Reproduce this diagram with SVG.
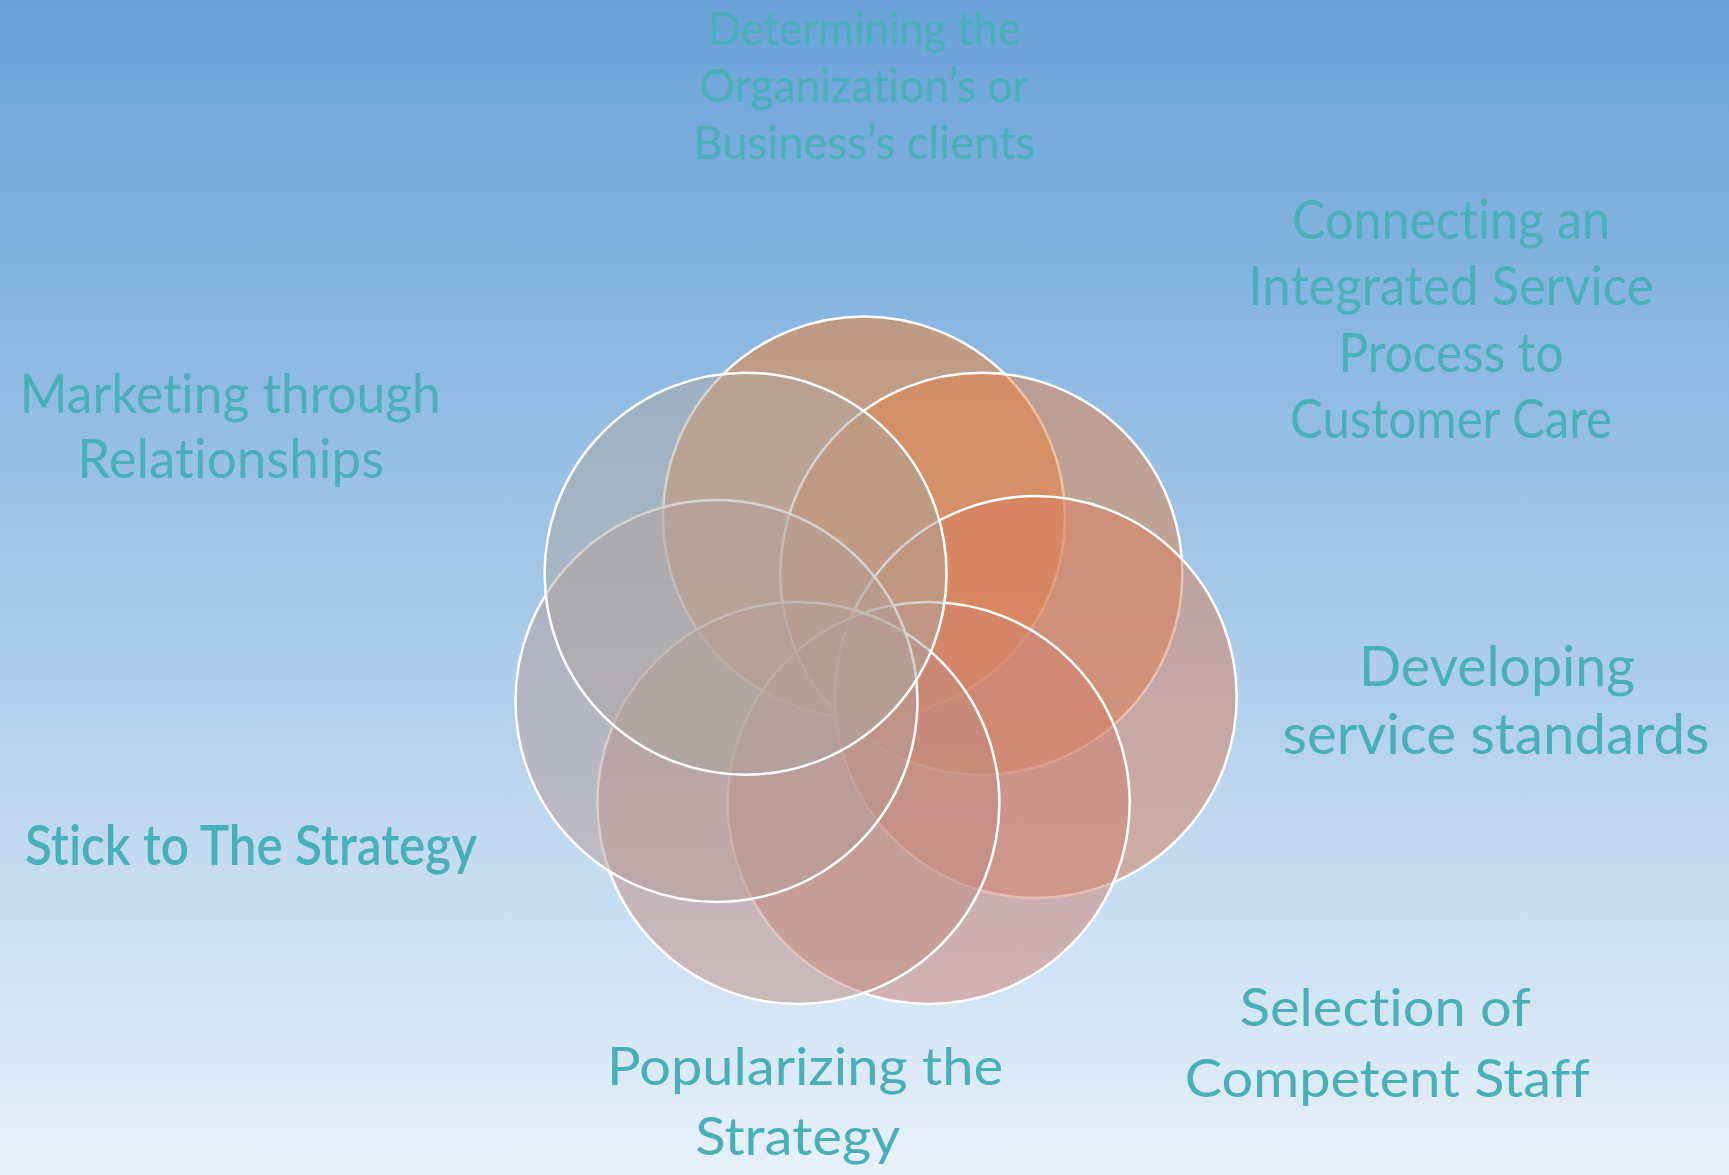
<svg xmlns="http://www.w3.org/2000/svg" width="1729" height="1175" viewBox="0 0 1729 1175">
  <defs>
    <linearGradient id="sky" x1="0" y1="0" x2="0" y2="1">
      <stop offset="0" stop-color="#69a2d8"/>
      <stop offset="0.5" stop-color="#a5c8e9"/>
      <stop offset="1" stop-color="#e8f1fa"/>
    </linearGradient>
  </defs>
  <style>
    .petal { fill-opacity: 0.5; stroke: #ffffff; stroke-width: 2.5; }
    .lbl { fill: #47b0b8; text-anchor: middle; font-variant-ligatures: none; }
    .thin { font-family: Lato, "Open Sans", "Liberation Sans", sans-serif; font-weight: 400; }
    .reg { font-family: Lato, "Open Sans", "Liberation Sans", sans-serif; font-weight: 400; }
    .semi { font-family: Lato, "Open Sans", "Liberation Sans", sans-serif; font-weight: 600; }
  </style>

  <!-- background -->
  <rect x="0" y="0" width="1729" height="1175" fill="url(#sky)"/>

  <!-- overlapping circles, drawn clockwise from the top -->
  <g id="circles">
    <g id="c-top"><circle class="petal" cx="864" cy="517.5" r="201" fill="#f17f2a"/></g>
    <g id="c-upper-right"><circle class="petal" cx="981.4" cy="573.7" r="201" fill="#e37f46"/></g>
    <g id="c-lower-right"><circle class="petal" cx="1035.7" cy="697" r="201" fill="#d77d5b"/></g>
    <g id="c-bottom-right"><circle class="petal" cx="928.7" cy="803" r="201" fill="#cf806e"/></g>
    <g id="c-bottom-left"><circle class="petal" cx="798.4" cy="803" r="201" fill="#bf8e82"/></g>
    <g id="c-lower-left"><circle class="petal" cx="716.5" cy="701" r="201" fill="#b59b97"/></g>
    <g id="c-upper-left"><circle class="petal" cx="745.6" cy="573.7" r="201" fill="#aba6a0"/></g>
  </g>

  <g id="connectors"/>

  <!-- labels -->
  <g id="label-clients" class="lbl thin" font-size="46">
    <text x="864" y="45" textLength="313" lengthAdjust="spacingAndGlyphs">Determining the</text>
    <text x="864" y="102" textLength="329" lengthAdjust="spacingAndGlyphs">Organization’s or</text>
    <text x="864" y="159" textLength="342" lengthAdjust="spacingAndGlyphs">Business’s clients</text>
  </g>

  <g id="label-process" class="lbl thin" font-size="54">
    <text x="1451" y="239" textLength="318" lengthAdjust="spacingAndGlyphs">Connecting an</text>
    <text x="1451" y="305" textLength="405" lengthAdjust="spacingAndGlyphs">Integrated Service</text>
    <text x="1451" y="371.5" textLength="225" lengthAdjust="spacingAndGlyphs">Process to</text>
    <text x="1451" y="437.5" textLength="322" lengthAdjust="spacingAndGlyphs">Customer Care</text>
  </g>

  <g id="label-standards" class="lbl reg" font-size="56">
    <text x="1497" y="686" textLength="276" lengthAdjust="spacingAndGlyphs">Developing</text>
    <text x="1496" y="754" textLength="427" lengthAdjust="spacingAndGlyphs">service standards</text>
  </g>

  <g id="label-staff" class="lbl reg" font-size="53">
    <text x="1385.3" y="1025.7" textLength="291" lengthAdjust="spacingAndGlyphs">Selection of</text>
    <text x="1387.3" y="1096.7" textLength="405" lengthAdjust="spacingAndGlyphs">Competent Staff</text>
  </g>

  <g id="label-popularizing" class="lbl reg" font-size="53">
    <text x="805" y="1085" textLength="396" lengthAdjust="spacingAndGlyphs">Popularizing the</text>
    <text x="797.7" y="1155" textLength="205" lengthAdjust="spacingAndGlyphs">Strategy</text>
  </g>

  <g id="label-relationships" class="lbl thin" font-size="54">
    <text x="230.3" y="413" textLength="421" lengthAdjust="spacingAndGlyphs">Marketing through</text>
    <text x="230.7" y="478" textLength="307" lengthAdjust="spacingAndGlyphs">Relationships</text>
  </g>

  <g id="label-stick" class="lbl semi" font-size="56">
    <text x="251" y="865" textLength="452" lengthAdjust="spacingAndGlyphs">Stick to The Strategy</text>
  </g>
</svg>
